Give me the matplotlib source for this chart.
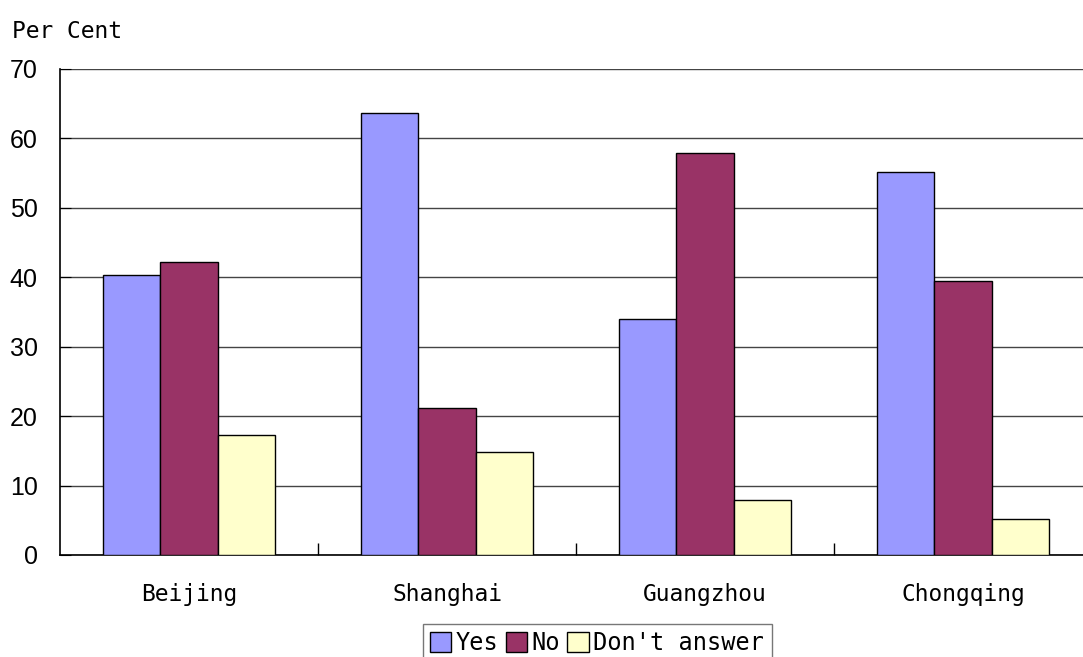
import numpy as np
import matplotlib.pyplot as plt

# survey answers by city, in per cent
cities = ['Beijing', 'Shanghai', 'Guangzhou', 'Chongqing']
series = ['Yes', 'No', "Don't answer"]
yes = [40.3, 63.7, 34.0, 55.2]
no = [42.2, 21.2, 57.9, 39.5]
dont_answer = [17.3, 14.8, 7.9, 5.2]
colors = ['#9999FF', '#993366', '#FFFFCC']

mono = 'DejaVu Sans Mono'

fig = plt.figure(figsize=(10.83, 6.57), dpi=100)
ax = fig.add_axes([60 / 1083, 1 - 555 / 657, 1032 / 1083, 486 / 657])

x = np.arange(len(cities))
w = 0.221
for i, (vals, name) in enumerate(zip([yes, no, dont_answer], series)):
    ax.bar(x + (i - 1) * w, vals, w, color=colors[i], edgecolor='black',
           linewidth=1.0, label=name, zorder=3)

ax.set_xlim(-0.5, len(cities) - 0.5)
ax.set_ylim(0, 70)
ax.set_yticks(range(0, 71, 10))
ax.yaxis.grid(True, color='#444444', linewidth=1.0, zorder=0)
ax.tick_params(axis='y', direction='in', length=8, pad=16, labelsize=18)
for lab in ax.get_yticklabels():
    lab.set_family('Liberation Sans')

# category labels centred, ticks on the boundaries between groups
ax.set_xticks(x)
ax.set_xticklabels(cities, fontfamily=mono, fontsize=16.5)
ax.tick_params(axis='x', which='major', length=0, pad=20)
ax.set_xticks(x[:-1] + 0.5, minor=True)
ax.tick_params(axis='x', which='minor', direction='in', length=9, width=1)

for s in ['top', 'right']:
    ax.spines[s].set_visible(False)
ax.spines['left'].set_linewidth(1.2)
ax.spines['bottom'].set_linewidth(1.2)

fig.text(12 / 1083, 1 - 38 / 657, 'Per Cent', fontfamily=mono, fontsize=16.5)

leg = fig.legend(loc='upper left', bbox_to_anchor=(423 / 1083, 1 - 624 / 657),
                 ncol=3, frameon=True, fancybox=False, edgecolor='#555555',
                 prop={'family': mono, 'size': 17}, handlelength=0.9,
                 handleheight=0.9, handletextpad=0.2, columnspacing=0.3,
                 borderpad=0.3, borderaxespad=0)
leg.get_frame().set_linewidth(1.0)

fig.savefig('out.png', dpi=100)
